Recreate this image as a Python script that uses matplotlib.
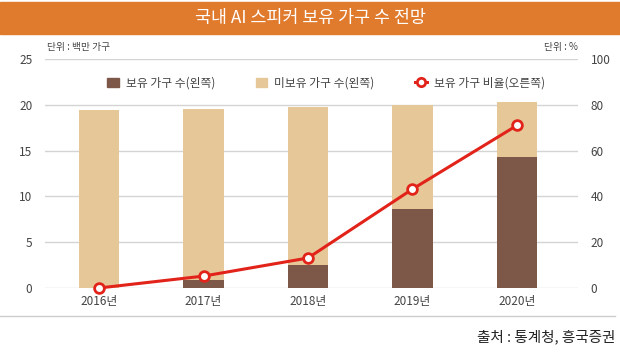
import matplotlib
matplotlib.use('Agg')
import matplotlib.pyplot as plt
from matplotlib.lines import Line2D
from matplotlib.patches import Patch
import numpy as np

plt.rcParams['font.family'] = ['Noto Sans CJK KR', 'DejaVu Sans']

years = ['2016년', '2017년', '2018년', '2019년', '2020년']
owned = [0.0, 0.9, 2.5, 8.6, 14.3]          # 백만 가구
total = [19.4, 19.5, 19.8, 20.0, 20.3]      # 백만 가구
ratio = [0.0, 5.2, 13.1, 43.2, 71.0]         # %
not_owned = [t - o for t, o in zip(total, owned)]

BROWN = '#7d5849'
BEIGE = '#e6c898'
RED = '#e2231a'
ORANGE = '#e07a2d'
GRID = '#d4d4d4'
TXT = '#444444'

W, H = 620, 359
fig = plt.figure(figsize=(W / 100, H / 100), dpi=100)

# title bar
fig.patches.append(plt.Rectangle((0, 1 - 34 / H), 1, 32 / H, transform=fig.transFigure,
                                 color=ORANGE, zorder=0))
fig.text(0.5, 1 - 18 / H, '국내 AI 스피커 보유 가구 수 전망', color='white',
         fontsize=12.5, ha='center', va='center')

# main axes
ax = fig.add_axes([45 / W, (H - 288) / H, 533 / W, 229 / H])
x = np.arange(len(years))
ax.bar(x, owned, width=0.39, color=BROWN, zorder=2)
ax.bar(x, not_owned, width=0.39, bottom=owned, color=BEIGE, zorder=2)
ax.set_xlim(-0.517, 4.584)
ax.set_ylim(0, 25)
ax.set_yticks([0, 5, 10, 15, 20, 25])
ax.yaxis.grid(True, color=GRID, linewidth=1)
ax.set_axisbelow(True)
for s in ax.spines.values():
    s.set_visible(False)
ax.set_xticks(x)
ax.set_xticklabels(years)
ax.tick_params(axis='both', length=0, labelsize=8.5, colors=TXT)
ax.tick_params(axis='y', pad=9)
ax.tick_params(axis='x', pad=5)

ax2 = ax.twinx()
ax2.set_ylim(0, 100)
ax2.set_yticks([0, 20, 40, 60, 80, 100])
for s in ax2.spines.values():
    s.set_visible(False)
ax2.tick_params(axis='y', length=0, labelsize=8.5, colors=TXT, pad=9)
ax2.plot(x, ratio, color=RED, linewidth=2.2, marker='o', markersize=7,
         markerfacecolor='white', markeredgecolor=RED, markeredgewidth=2,
         clip_on=False, zorder=5)

# units
fig.text(47 / W, 1 - 47 / H, '단위 : 백만 가구', fontsize=7, color=TXT, va='center')
fig.text(578 / W, 1 - 47 / H, '단위 : %', fontsize=7, color=TXT, va='center', ha='right')

# legend
handles = [Patch(color=BROWN), Patch(color=BEIGE),
           Line2D([], [], color=RED, linewidth=2.2, marker='o', markersize=6,
                  markerfacecolor='white', markeredgecolor=RED, markeredgewidth=2)]
labels = ['보유 가구 수(왼쪽)', '미보유 가구 수(왼쪽)', '보유 가구 비율(오른쪽)']
fig.legend(handles, labels, loc='center', bbox_to_anchor=(326 / W, 1 - 83 / H),
           ncol=3, frameon=False, fontsize=8.5, handlelength=1.0, handleheight=0.8,
           columnspacing=3.4, handletextpad=0.6, labelcolor=TXT)

# bottom separator and source
fig.add_artist(Line2D([0, 615 / W], [1 - 316 / H, 1 - 316 / H], color='#cccccc',
                      linewidth=1, transform=fig.transFigure))
fig.text(615 / W, 1 - 337 / H, '출처 : 통계청, 흥국증권', fontsize=10.5, color='#222222',
         ha='right', va='center')

fig.savefig('out.png', dpi=100)
